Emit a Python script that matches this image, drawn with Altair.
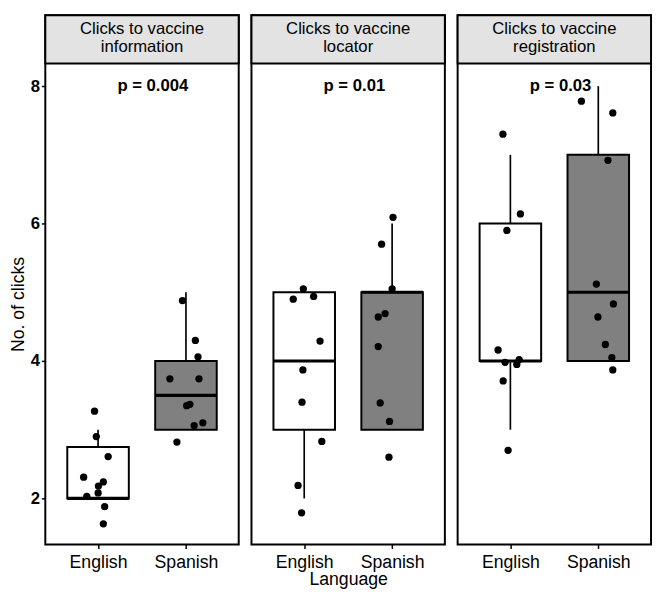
import altair as alt
import pandas as pd

FONT = "Liberation Sans"

panels = ["Clicks to vaccine information", "Clicks to vaccine locator", "Clicks to vaccine registration"]
header_line1 = ["Clicks to vaccine", "Clicks to vaccine", "Clicks to vaccine"]
header_line2 = ["information", "locator", "registration"]
p_labels = ["p = 0.004", "p = 0.01", "p = 0.03"]
languages = ["English", "Spanish"]

# jittered observations (value, horizontal jitter in category units)
info_en = [3.27, 2.90, 2.61, 2.31, 2.24, 2.18, 2.08, 2.03, 1.88, 1.63]
info_en_j = [-0.04, -0.02, 0.115, -0.164, 0.06, 0.004, 0.001, -0.128, 0.075, 0.06]
info_es = [4.88, 4.30, 4.06, 3.74, 3.74, 3.35, 3.37, 3.06, 3.10, 2.82]
info_es_j = [-0.04, 0.107, 0.137, -0.183, 0.148, 0.008, 0.045, 0.093, 0.192, -0.103]

loc_en = [5.05, 4.90, 4.94, 4.29, 3.87, 3.40, 2.83, 2.19, 1.79]
loc_en_j = [-0.01, -0.125, 0.107, 0.18, -0.015, -0.025, 0.2, -0.07, -0.03]
loc_es = [6.09, 5.70, 5.05, 4.64, 4.69, 4.21, 3.39, 3.12, 2.60]
loc_es_j = [0.01, -0.12, 0.0, -0.158, -0.08, -0.158, -0.136, -0.03, -0.036]

reg_en = [7.30, 6.14, 5.90, 4.16, 3.98, 3.95, 4.02, 3.71, 2.70]
reg_en_j = [-0.085, 0.114, -0.04, -0.14, -0.06, 0.073, 0.1, -0.082, -0.026]
reg_es = [7.78, 7.61, 6.92, 5.12, 4.83, 4.64, 4.24, 4.05, 3.87]
reg_es_j = [-0.192, 0.165, 0.11, -0.022, 0.172, -0.004, 0.08, 0.154, 0.165]

# box statistics per panel: [English, Spanish]
box_lo = [[2, 3], [2, 3], [3, 4]]
box_q1 = [[2, 3], [3, 3], [4, 4]]
box_med = [[2, 3.5], [4, 5], [4, 5]]
box_q3 = [[2.75, 4], [5, 5], [6, 7]]
box_hi = [[3, 5], [5, 6], [7, 8]]

points = {
    0: [(info_en, info_en_j), (info_es, info_es_j)],
    1: [(loc_en, loc_en_j), (loc_es, loc_es_j)],
    2: [(reg_en, reg_en_j), (reg_es, reg_es_j)],
}

PANEL_W = 197
HEADER_H = 49
PLOT_H = 490
Y_DOMAIN = [1.33, 8.33 + 0.7]  # extra 0.7 units hold the strip header
HALF_BOX = 0.35
P_X = 1.22
P_Y = 8.0


def panel_chart(i):
    prow = []
    for li, lang in enumerate(languages):
        vals, jit = points[i][li]
        for v, j in zip(vals, jit):
            prow.append({"lang": lang, "pos": li + 1, "value": v, "jit": j})
    pdf = pd.DataFrame(prow)
    bdf = pd.DataFrame({
        "lang": languages,
        "pos": [1, 2],
        "lo": box_lo[i], "q1": box_q1[i], "med": box_med[i],
        "q3": box_q3[i], "hi": box_hi[i],
    })

    if i == 0:
        yaxis = alt.Axis(values=[2, 4, 6, 8], format="d", title="No. of clicks", labelFontWeight="bold",
                         labelFontSize=17, titleFontSize=18, titleFontWeight="normal",
                         titlePadding=3, labelPadding=2, tickSize=4, tickWidth=1.5,
                         titleY=HEADER_H + PLOT_H / 2, domain=False, grid=False)
    else:
        yaxis = None
    yscale = alt.Scale(domain=Y_DOMAIN, nice=False, zero=False)
    xscale = alt.Scale(domain=[0.4, 2.6], nice=False, zero=False)
    xaxis = alt.Axis(values=[1, 2], labelExpr="datum.value == 1 ? 'English' : 'Spanish'",
                     title="Language" if i == 1 else None, labelFontSize=18, titleFontSize=18,
                     titleFontWeight="normal", tickSize=4, tickWidth=1.5, labelPadding=5,
                     titlePadding=0, domain=False, grid=False)

    base_b = alt.Chart(bdf)
    lower = base_b.mark_rule(color="black", strokeWidth=1.7).encode(
        x=alt.X("pos:Q", scale=xscale, axis=xaxis),
        y=alt.Y("lo:Q", scale=yscale, axis=yaxis), y2="q1:Q")
    upper = base_b.mark_rule(color="black", strokeWidth=1.7).encode(
        x="pos:Q", y="q3:Q", y2="hi:Q")
    boxes = base_b.transform_calculate(
        xl=f"datum.pos - {HALF_BOX}", xr=f"datum.pos + {HALF_BOX}"
    ).mark_rect(stroke="black", strokeWidth=2).encode(
        x="xl:Q", x2="xr:Q", y="q1:Q", y2="q3:Q",
        fill=alt.Fill("lang:N", scale=alt.Scale(domain=languages, range=["white", "#808080"]), legend=None))
    median = base_b.transform_calculate(
        xl=f"datum.pos - {HALF_BOX}", xr=f"datum.pos + {HALF_BOX}"
    ).mark_rule(color="black", strokeWidth=3.2).encode(
        x="xl:Q", x2="xr:Q", y="med:Q")
    pts = alt.Chart(pdf).transform_calculate(px="datum.pos + datum.jit").mark_circle(
        color="black", size=55, opacity=1).encode(x="px:Q", y="value:Q")

    hdf = pd.DataFrame({"l1": [header_line1[i]], "l2": [header_line2[i]]})
    header = alt.Chart(hdf).mark_rect(fill="#e3e3e3", stroke="black", strokeWidth=2).encode(
        x=alt.value(0), x2=alt.value(PANEL_W), y=alt.value(0), y2=alt.value(HEADER_H))
    htext1 = alt.Chart(hdf).mark_text(fontSize=17, baseline="middle", align="center",
                                      font=FONT, color="black").encode(
        x=alt.value(PANEL_W / 2), y=alt.value(14.5), text="l1:N")
    htext2 = alt.Chart(hdf).mark_text(fontSize=17, baseline="middle", align="center",
                                      font=FONT, color="black").encode(
        x=alt.value(PANEL_W / 2), y=alt.value(32.5), text="l2:N")
    ptext = alt.Chart(pd.DataFrame({"label": [p_labels[i]]})).mark_text(
        align="left", baseline="middle", fontSize=17, fontWeight="bold", font=FONT, color="black"
    ).encode(x=alt.datum(P_X), y=alt.datum(P_Y), text="label:N")

    return alt.layer(lower, upper, boxes, median, pts, header, htext1, htext2, ptext).properties(
        width=PANEL_W, height=HEADER_H + PLOT_H)


chart = alt.hconcat(panel_chart(0), panel_chart(1), panel_chart(2), spacing=9).properties(
    padding={"left": 0, "top": 0, "right": 0, "bottom": 0},
    background="white"
).configure_view(stroke="black", strokeWidth=2).configure_axis(
    grid=False, tickColor="black", labelColor="black", titleColor="black",
    labelFont=FONT, titleFont=FONT
)

chart.save("out.html", embed_options={"renderer": "svg", "actions": False})
